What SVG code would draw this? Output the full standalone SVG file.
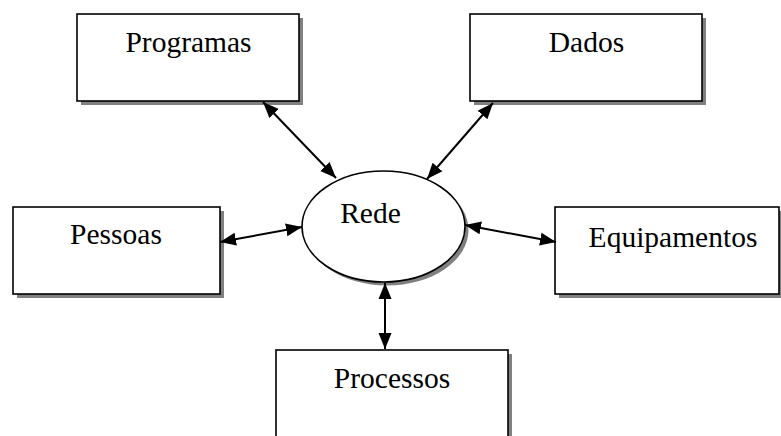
<svg xmlns="http://www.w3.org/2000/svg" width="781" height="436" viewBox="0 0 781 436">
<style>
.shadow{fill:#808080;stroke:none}
.box{fill:#fff;stroke:#000;stroke-width:1.6}
.lbl{font-size:29.5px;fill:#000;text-anchor:middle}
.conn{stroke:#000;stroke-width:2;fill:none;marker-start:url(#ah);marker-end:url(#ah)}
</style>
<defs>
<marker id="ah" markerUnits="userSpaceOnUse" markerWidth="18" markerHeight="16" viewBox="0 0 18 16" refX="16" refY="8" orient="auto-start-reverse">
<path d="M0,1.5 L16,8 L0,14.5 Z" fill="#000"/>
</marker>
</defs>
<g id="programas">
<rect class="shadow" x="81" y="18" width="222" height="87"/>
<rect class="box" x="77" y="14" width="222" height="87"/>
<text class="lbl" font-family="Liberation Serif, Times New Roman, serif" x="188.5" y="52">Programas</text>
</g>
<g id="dados">
<rect class="shadow" x="474" y="18" width="232" height="87"/>
<rect class="box" x="470" y="14" width="232" height="87"/>
<text class="lbl" font-family="Liberation Serif, Times New Roman, serif" x="586.5" y="52">Dados</text>
</g>
<g id="pessoas">
<rect class="shadow" x="17" y="211" width="207" height="87"/>
<rect class="box" x="13" y="207" width="207" height="87"/>
<text class="lbl" font-family="Liberation Serif, Times New Roman, serif" x="116" y="244">Pessoas</text>
</g>
<g id="rede">
<ellipse class="shadow" cx="387" cy="230" rx="81.5" ry="55.5"/>
<ellipse class="box" cx="383.5" cy="226.5" rx="81.5" ry="55.5"/>
<text class="lbl" font-family="Liberation Serif, Times New Roman, serif" x="370.5" y="223">Rede</text>
</g>
<g id="equipamentos">
<rect class="shadow" x="559" y="211" width="224" height="87"/>
<rect class="box" x="555" y="207" width="224" height="87"/>
<text class="lbl" font-family="Liberation Serif, Times New Roman, serif" x="673" y="247">Equipamentos</text>
</g>
<g id="processos">
<rect class="shadow" x="280" y="354" width="232" height="90"/>
<rect class="box" x="276" y="350" width="232" height="94"/>
<text class="lbl" font-family="Liberation Serif, Times New Roman, serif" x="392" y="388">Processos</text>
</g>
<g id="connectors">
<line class="conn" x1="263" y1="102" x2="336" y2="178"/>
<line class="conn" x1="493" y1="103" x2="427" y2="179"/>
<line class="conn" x1="220" y1="242" x2="302" y2="227"/>
<line class="conn" x1="465" y1="225" x2="556" y2="242"/>
<line class="conn" x1="385" y1="283" x2="385" y2="349"/>
</g>
</svg>
